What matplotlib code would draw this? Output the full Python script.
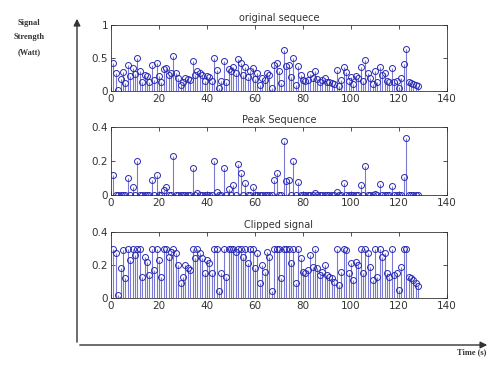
import numpy as np
import matplotlib
matplotlib.use("Agg")
import matplotlib.pyplot as plt

# sample index
n = np.arange(1, 129)

# original sequence (Watt)
original = [0.42, 0.27, 0.02, 0.18, 0.29, 0.12, 0.40, 0.23, 0.35, 0.26,
            0.50, 0.30, 0.13, 0.25, 0.22, 0.14, 0.39, 0.17, 0.42, 0.23,
            0.13, 0.33, 0.345, 0.25, 0.28, 0.53, 0.27, 0.20, 0.09, 0.13,
            0.20, 0.18, 0.17, 0.46, 0.24, 0.31, 0.27, 0.24, 0.15, 0.23,
            0.21, 0.15, 0.50, 0.316, 0.04, 0.15, 0.46, 0.13, 0.335, 0.30,
            0.36, 0.28, 0.48, 0.43, 0.25, 0.37, 0.21, 0.30, 0.35, 0.18,
            0.27, 0.09, 0.20, 0.16, 0.28, 0.25, 0.04, 0.39, 0.43, 0.30,
            0.12, 0.62, 0.38, 0.39, 0.21, 0.50, 0.09, 0.375, 0.24, 0.16,
            0.15, 0.17, 0.26, 0.19, 0.31, 0.18, 0.14, 0.16, 0.20, 0.14,
            0.13, 0.12, 0.10, 0.316, 0.08, 0.16, 0.37, 0.29, 0.15, 0.21,
            0.11, 0.22, 0.20, 0.357, 0.15, 0.47, 0.27, 0.19, 0.11, 0.305,
            0.13, 0.367, 0.25, 0.27, 0.15, 0.13, 0.353, 0.14, 0.15, 0.05,
            0.19, 0.406, 0.637, 0.13, 0.12, 0.11, 0.09, 0.07]

# peak part (above 0.3)
peak = [0.12, 0, 0, 0, 0, 0, 0.10, 0, 0.05, 0,
        0.20, 0, 0, 0, 0, 0, 0.09, 0, 0.12, 0,
        0, 0.03, 0.045, 0, 0, 0.23, 0, 0, 0, 0,
        0, 0, 0, 0.16, 0, 0.01, 0, 0, 0, 0,
        0, 0, 0.20, 0.016, 0, 0, 0.16, 0, 0.035, 0,
        0.06, 0, 0.18, 0.13, 0, 0.07, 0, 0, 0.05, 0,
        0, 0, 0, 0, 0, 0, 0, 0.09, 0.13, 0,
        0, 0.32, 0.08, 0.09, 0, 0.20, 0, 0.075, 0, 0,
        0, 0, 0, 0, 0.01, 0, 0, 0, 0, 0,
        0, 0, 0, 0.016, 0, 0, 0.07, 0, 0, 0,
        0, 0, 0, 0.057, 0, 0.17, 0, 0, 0, 0.005,
        0, 0.067, 0, 0, 0, 0, 0.053, 0, 0, 0,
        0, 0.106, 0.337, 0, 0, 0, 0, 0]

# clipped signal (limited at 0.3)
clipped = [0.30, 0.27, 0.02, 0.18, 0.29, 0.12, 0.30, 0.23, 0.30, 0.26,
           0.30, 0.30, 0.13, 0.25, 0.22, 0.14, 0.30, 0.17, 0.30, 0.23,
           0.13, 0.30, 0.30, 0.25, 0.28, 0.30, 0.27, 0.20, 0.09, 0.13,
           0.20, 0.18, 0.17, 0.30, 0.24, 0.30, 0.27, 0.24, 0.15, 0.23,
           0.21, 0.15, 0.30, 0.30, 0.04, 0.15, 0.30, 0.13, 0.30, 0.30,
           0.30, 0.28, 0.30, 0.30, 0.25, 0.30, 0.21, 0.30, 0.30, 0.18,
           0.27, 0.09, 0.20, 0.16, 0.28, 0.25, 0.04, 0.30, 0.30, 0.30,
           0.12, 0.30, 0.30, 0.30, 0.21, 0.30, 0.09, 0.30, 0.24, 0.16,
           0.15, 0.17, 0.26, 0.19, 0.30, 0.18, 0.14, 0.16, 0.20, 0.14,
           0.13, 0.12, 0.10, 0.30, 0.08, 0.16, 0.30, 0.29, 0.15, 0.21,
           0.11, 0.22, 0.20, 0.30, 0.15, 0.30, 0.27, 0.19, 0.11, 0.30,
           0.13, 0.30, 0.25, 0.27, 0.15, 0.13, 0.30, 0.14, 0.15, 0.05,
           0.19, 0.30, 0.30, 0.13, 0.12, 0.11, 0.09, 0.07]

titles = ["original sequece", "Peak Sequence", "Clipped signal"]
series = [original, peak, clipped]
ylims = [1, 0.4, 0.4]
yticks = [[0, 0.5, 1], [0, 0.2, 0.4], [0, 0.2, 0.4]]
yticklabels = [["0", "0.5", "1"], ["0", "0.2", "0.4"], ["0", "0.2", "0.4"]]
xticks = [0, 20, 40, 60, 80, 100, 120, 140]

W, H = 493, 367
fig = plt.figure(figsize=(W / 100, H / 100), dpi=100)
fig.patch.set_facecolor("white")

# axes boxes in pixels: (left, top, right, bottom)
boxes = [(111, 25, 447, 91), (111, 127, 447, 195), (111, 232, 447, 298)]

stem_col = "#7a7ad4"
mark_col = "#2a2ab4"

for box, vals, title, ym, yt, ytl in zip(boxes, series, titles, ylims, yticks, yticklabels):
    l, t, r, b = box
    ax = fig.add_axes([l / W, 1 - b / H, (r - l) / W, (b - t) / H])
    ml, sl, bl = ax.stem(n, vals, linefmt="-", markerfmt="o", basefmt=" ")
    plt.setp(sl, color=stem_col, linewidth=0.8)
    plt.setp(ml, markerfacecolor="none", markeredgecolor=mark_col,
             markersize=4.3, markeredgewidth=0.7)
    ax.set_xlim(0, 140)
    ax.set_ylim(0, ym)
    ax.set_xticks(xticks)
    ax.set_yticks(yt)
    ax.set_yticklabels(ytl)
    ax.tick_params(direction="in", length=3, width=0.6, labelsize=7.5,
                   top=True, right=True, pad=2, colors="#333333")
    for s in ax.spines.values():
        s.set_linewidth(0.6)
        s.set_color("#333333")
    ax.set_title(title, fontsize=7, pad=3, color="#333333")

# hand-drawn outer axes with arrows
fig.add_artist(matplotlib.patches.FancyArrowPatch(
    (77 / W, 1 - 345 / H), (77 / W, 1 - 16 / H), transform=fig.transFigure,
    arrowstyle="-|>,head_length=4,head_width=2", color="#333333", linewidth=1))
fig.add_artist(matplotlib.patches.FancyArrowPatch(
    (77 / W, 1 - 345 / H), (490 / W, 1 - 345 / H), transform=fig.transFigure,
    arrowstyle="-|>,head_length=4,head_width=2", color="#333333", linewidth=1))

serif = ["Liberation Serif", "DejaVu Serif"]
fig.text(29 / W, 1 - 23 / H, "Signal", family=serif, fontsize=6,
         ha="center", va="center", weight="bold", color="#333333")
fig.text(29 / W, 1 - 37 / H, "Strength", family=serif, fontsize=6,
         ha="center", va="center", weight="bold", color="#333333")
fig.text(29 / W, 1 - 52 / H, "(Watt)", family=serif, fontsize=6,
         ha="center", va="center", weight="bold", color="#333333")
fig.text(457 / W, 1 - 352 / H, "Time (s)", family=serif, fontsize=6,
         ha="left", va="center", weight="bold", color="#333333")

fig.savefig("out.png", dpi=100)
